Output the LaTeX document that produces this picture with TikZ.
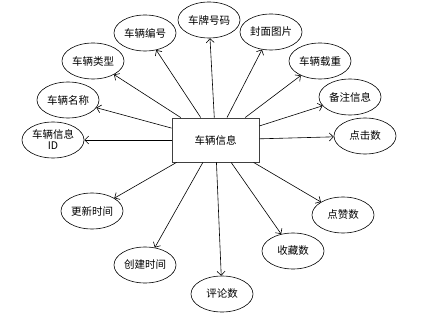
\documentclass[tikz,border=0pt]{standalone}
\usepackage{fontspec}
\newfontfamily\cjk{Noto Sans CJK SC}
\usetikzlibrary{arrows.meta,shapes.geometric}

\begin{document}
\begin{tikzpicture}[x=1pt, y=-1pt, font=\cjk\fontsize{10.5}{12}\selectfont,
    >={Straight Barb[length=4pt,width=8pt]}, line width=.6pt,
    attr/.style={ellipse, draw, minimum width=62pt, minimum height=36pt,
      inner sep=0pt, align=center},
    entity/.style={draw=black!75, line width=.9pt, minimum width=87pt,
      minimum height=44pt, inner sep=0pt}]
    \useasboundingbox (0,0) rectangle (439,318);
    \node[entity] (veh) at (215.5,140) {车辆信息};
    \foreach \n/\x/\y/\label in {id/53/140/{车辆信息\\[-1pt]ID},
        name/68/100/车辆名称, type/93/61/车辆类型, num/145/33/车辆编号,
        plate/209/20/车牌号码, cover/271/32/封面图片, load/320/61/车辆载重,
        note/350/97/备注信息, click/365/136/点击数, update/92/211/更新时间,
        create/145/265/创建时间, comment/222/294/评论数,
        collect/293/251/收藏数, like/343/215/点赞数}
    {
      \node[attr] (\n) at (\x,\y) {\label};
      \draw[->] (veh) -- (\n);
    }
  \end{tikzpicture}
\end{document}
